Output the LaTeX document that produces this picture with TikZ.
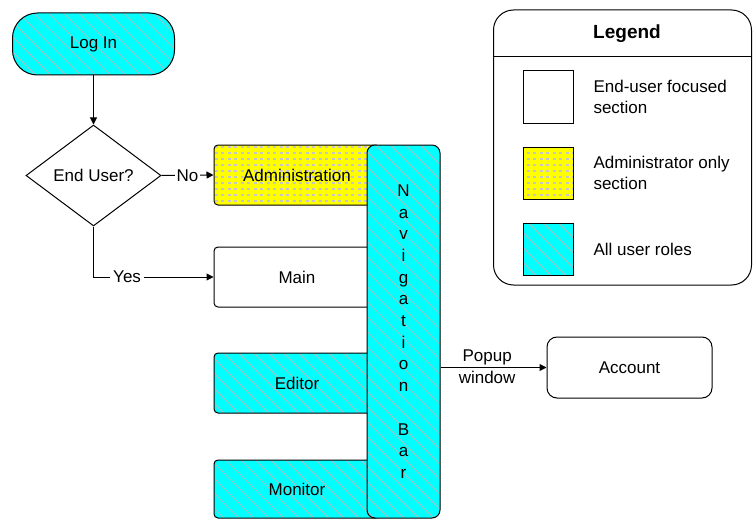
\documentclass[tikz,border=0pt]{standalone}
\usepackage{fontspec}
\setmainfont{Liberation Sans}
\usepackage{tikz}
\usetikzlibrary{arrows.meta}
\usetikzlibrary{patterns.meta}
\usetikzlibrary{shapes.geometric}

\definecolor{allcyan}{RGB}{0,255,255}
\definecolor{adminyellow}{RGB}{255,255,0}

\tikzdeclarepattern{
  name=admindash,
  bounding box={(0pt,-0.6pt) and (6.5pt,0.6pt)},
  tile size={(6.5pt,6pt)},
  code={\draw[line width=1.1pt] (0pt,0pt) -- (3pt,0pt);}
}

\begin{document}
\begin{tikzpicture}
[x=1pt,y=-1pt,
 every node/.style={font=\fontsize{17}{21}\selectfont},
 box/.style={draw,line width=1pt,inner sep=0pt},
 usersec/.style={box,fill=white},
 adminsec/.style={box,preaction={fill=adminyellow},
   preaction={pattern=admindash,pattern color=gray!45}},
 allsec/.style={box,preaction={fill=allcyan},
   preaction={pattern={Lines[angle=-45,distance=10.6pt,line width=0.8pt]},pattern color=gray!55}},
 section/.style={minimum width=166pt,minimum height=60pt,rounded corners=4pt},
 fl/.style={draw=black,line width=1pt,arrows={-Triangle[length=7pt,width=7pt]}}]
\useasboundingbox (0,0) rectangle (753,519);

% flow on the left
\node[allsec,minimum width=162pt,minimum height=62pt,rounded corners=25pt] (login) at (93.5,44) {Log In};
\node[box,diamond,aspect=1,minimum width=135pt,minimum height=101pt] (enduser) at (93.5,175.5) {End User?};

% sections
\node[adminsec,section] (admin) at (297,175) {Administration};
\node[usersec,section] (main) at (297,277) {Main};
\node[allsec,section] (editor) at (297,383) {Editor};
\node[allsec,section,minimum height=58pt] (monitor) at (297,489) {Monitor};
\node[allsec,minimum width=73pt,minimum height=373pt,rounded corners=8pt,align=center,
  font=\fontsize{17}{21.7}\selectfont] (navbar) at (403.5,331.5)
  {N\\a\\v\\i\\g\\a\\t\\i\\o\\n\\[21.7pt]B\\a\\r};
\node[box,minimum width=165pt,minimum height=61pt,rounded corners=10pt] (account) at (629.5,367.5) {Account};

\draw[fl] (login) -- (enduser);
\draw[fl] (enduser.east) -- node[fill=white,inner sep=2pt] {No} (admin.west);
\draw[fl] (enduser.south) |- node[pos=0.64,fill=white,inner sep=3pt] {Yes} (main.west);
\draw[fl] (navbar.east |- account) -- node[pos=0.44,above,inner sep=2pt] {Popup}
  node[pos=0.44,below,inner sep=3pt] {window} (account.west);

% legend
\node[box,minimum width=258pt,minimum height=275pt,rounded corners=20pt] (legend) at (622.5,147.5) {};
\node[font=\bfseries\fontsize{19}{22}\selectfont] (legendtitle) at (627,34) {Legend};
\draw[line width=1pt] (legend.west |- 0,57) -- (legend.east |- 0,57);
\node[usersec,minimum width=50pt,minimum height=52pt] (keyuser) at (548,97) {};
\node[adminsec,minimum width=50pt,minimum height=52pt] (keyadmin) at (548,173) {};
\node[allsec,minimum width=50pt,minimum height=52pt] (keyall) at (548,249.5) {};
\node[anchor=west,align=left] (keyusertext) at (590,97) {End-user focused\\section};
\node[anchor=west,align=left] (keyadmintext) at (590,173) {Administrator only\\section};
\node[anchor=west,align=left] (keyalltext) at (590,249.5) {All user roles};

\end{tikzpicture}
\end{document}
